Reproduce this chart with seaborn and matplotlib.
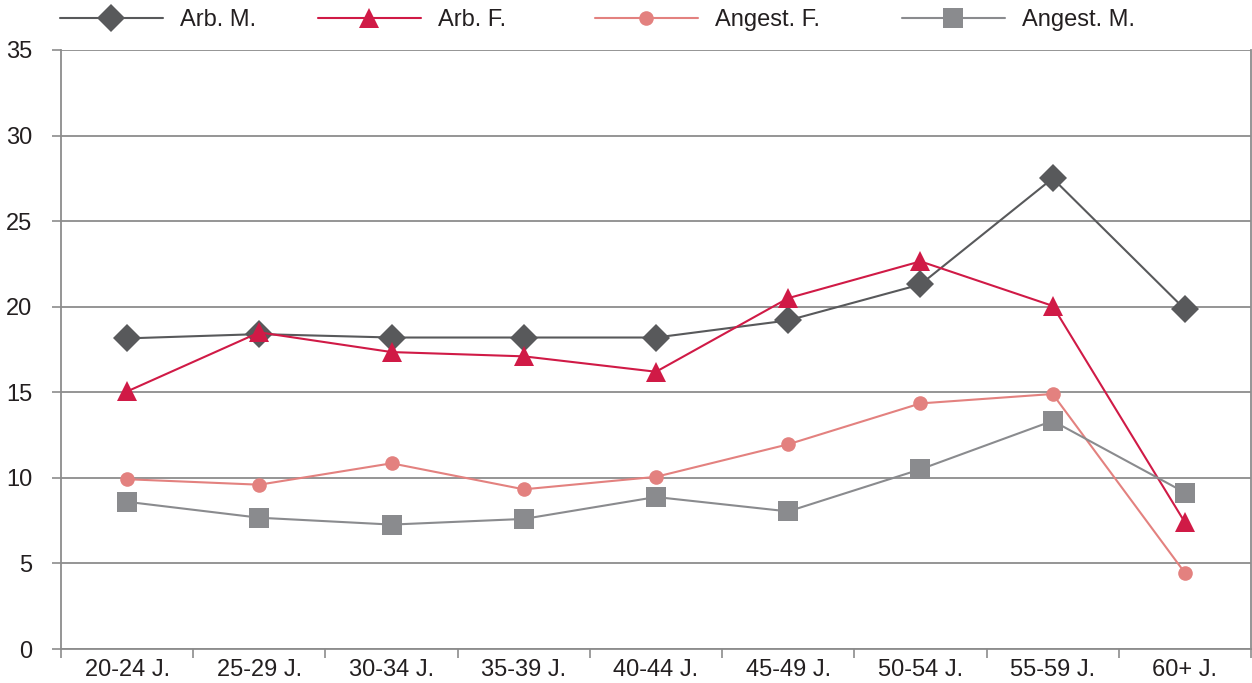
import numpy as np
import pandas as pd
import matplotlib
matplotlib.use("Agg")
import matplotlib.pyplot as plt
import seaborn as sns

categories = ["20-24 J.", "25-29 J.", "30-34 J.", "35-39 J.", "40-44 J.",
              "45-49 J.", "50-54 J.", "55-59 J.", "60+ J."]
arb_m = [18.15, 18.4, 18.2, 18.2, 18.2, 19.2, 21.3, 27.5, 19.85]
arb_f = [15.05, 18.5, 17.35, 17.1, 16.2, 20.5, 22.65, 20.05, 7.4]
angest_f = [9.92, 9.6, 10.85, 9.33, 10.06, 11.96, 14.35, 14.9, 4.45]
angest_m = [8.6, 7.67, 7.27, 7.6, 8.88, 8.04, 10.5, 13.33, 9.14]
series_names = ["Arb. M.", "Arb. F.", "Angest. F.", "Angest. M."]
y_ticks = [0, 5, 10, 15, 20, 25, 30, 35]

sns.set_theme(style="white")
plt.rcParams['font.family'] = ['Liberation Sans', 'DejaVu Sans']
text_color = "#231f20"
grid_color = "#8c8c8c"

fig = plt.figure(figsize=(12.52, 6.83), dpi=100)
ax = fig.add_axes([61/1252, 1 - 649/683, (1251 - 61)/1252, (649 - 50)/683])

x = np.arange(len(categories))
styles = [
    (arb_m, "#58595b", "D", 13.8),
    (arb_f, "#d01a46", "^", 14.4),
    (angest_f, "#e3817f", "o", 10.5),
    (angest_m, "#8a8b8e", "s", 13.7),
]
for name, (vals, col, mk, ms) in zip(series_names, styles):
    df = pd.DataFrame({"x": x, "y": vals})
    sns.lineplot(data=df, x="x", y="y", ax=ax, color=col, marker=mk,
                 markersize=ms, markeredgewidth=0, linewidth=1.5,
                 label=name, zorder=3)

ax.set_xlim(-0.5, len(categories) - 0.5)
ax.set_ylim(0, 35)
ax.set_yticks(y_ticks)
ax.set_yticklabels([str(t) for t in y_ticks])
ax.yaxis.grid(True, color=grid_color, linewidth=1.3)
ax.set_axisbelow(True)

ax.set_xticks(np.arange(-0.5, len(categories), 1.0))
ax.set_xticklabels([])
ax.set_xticks(x, minor=True)
ax.set_xticklabels(categories, minor=True)
ax.tick_params(axis="x", which="major", length=6.5, width=1.2, color=grid_color, direction="out", bottom=True)
ax.tick_params(axis="x", which="minor", length=0, pad=7, labelsize=17, labelcolor=text_color)
ax.tick_params(axis="y", length=6.5, width=1.2, color=grid_color, direction="out", left=True, pad=14,
               labelsize=17, labelcolor=text_color)
ax.set_xlabel("")
ax.set_ylabel("")

for side in ["left", "right", "bottom"]:
    ax.spines[side].set_visible(True)
    ax.spines[side].set_color(grid_color)
    ax.spines[side].set_linewidth(1.3)
ax.spines["top"].set_visible(False)

handles, labels = ax.get_legend_handles_labels()
if ax.legend_:
    ax.legend_.remove()
legend_x_px = [60, 318, 595, 902]
for h, lab, px in zip(handles, labels, legend_x_px):
    fig.legend([h], [lab], loc="upper left", bbox_to_anchor=(px/1252, 1 - 9/683),
               frameon=False, fontsize=17, handlelength=4.36, handletextpad=0.72,
               borderpad=0, borderaxespad=0, labelcolor=text_color)

fig.savefig("out.png", dpi=100)
